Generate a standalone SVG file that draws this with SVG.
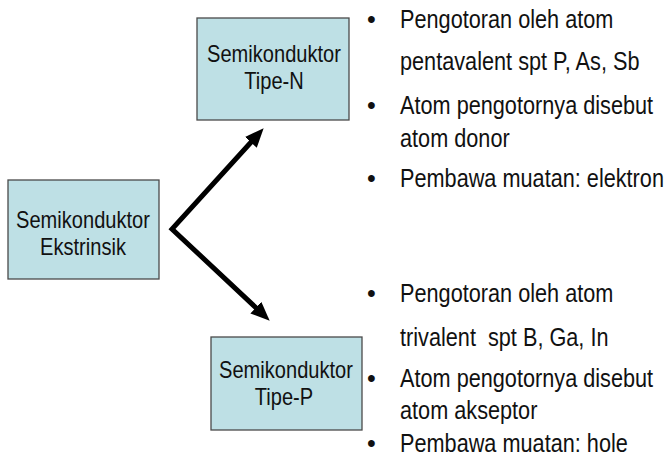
<svg xmlns="http://www.w3.org/2000/svg" width="669" height="467" viewBox="0 0 669 467">
<style>
.box{fill:#bee0e5;stroke:#4a4a4a;stroke-width:1.3}
.bt{font-family:"Liberation Sans",Arial,sans-serif;font-size:23px;fill:#111;text-anchor:middle}
.lt{font-family:"Liberation Sans",Arial,sans-serif;font-size:25px;fill:#111}
.conn{fill:none;stroke:#000;stroke-width:5;stroke-linejoin:miter;stroke-miterlimit:10}
</style>
<defs>
<marker id="ah" markerUnits="userSpaceOnUse" markerWidth="22" markerHeight="18" refX="9" refY="8" orient="auto-start-reverse">
<path d="M0,0 L19,8 L0,16 z" fill="#000"/>
</marker>
</defs>
<rect width="669" height="467" fill="#fff"/>
<g id="connectors">
<path class="conn" d="M256.9,135.7 L172,229 L262.4,313.8" marker-start="url(#ah)" marker-end="url(#ah)"/>
</g>
<g id="node-ekstrinsik">
<rect class="box" x="8" y="180" width="151" height="99"/>
<text class="bt" transform="translate(83,228) scale(0.873,1)">Semikonduktor</text>
<text class="bt" transform="translate(83,255) scale(0.873,1)">Ekstrinsik</text>
</g>
<g id="node-tipe-n">
<rect class="box" x="197" y="18" width="152" height="102"/>
<text class="bt" transform="translate(274,62) scale(0.873,1)">Semikonduktor</text>
<text class="bt" transform="translate(274,89) scale(0.873,1)">Tipe-N</text>
</g>
<g id="node-tipe-p">
<rect class="box" x="211" y="337" width="151" height="93"/>
<text class="bt" transform="translate(286,378) scale(0.873,1)">Semikonduktor</text>
<text class="bt" transform="translate(284,405) scale(0.873,1)">Tipe-P</text>
</g>
<g id="list-n">
<text class="lt" x="367" y="28">•</text>
<text class="lt" transform="translate(400,28) scale(0.868,1)">Pengotoran oleh atom</text>
<text class="lt" transform="translate(400,70) scale(0.868,1)">pentavalent spt P, As, Sb</text>
<text class="lt" x="367" y="114">•</text>
<text class="lt" transform="translate(400,114) scale(0.868,1)">Atom pengotornya disebut</text>
<text class="lt" transform="translate(400,147) scale(0.868,1)">atom donor</text>
<text class="lt" x="367" y="187">•</text>
<text class="lt" transform="translate(400,187) scale(0.868,1)">Pembawa muatan: elektron</text>
</g>
<g id="list-p">
<text class="lt" x="367" y="302">•</text>
<text class="lt" transform="translate(400,302) scale(0.868,1)">Pengotoran oleh atom</text>
<text class="lt" transform="translate(400,346) scale(0.868,1)" xml:space="preserve">trivalent  spt B, Ga, In</text>
<text class="lt" x="367" y="387">•</text>
<text class="lt" transform="translate(400,387) scale(0.868,1)">Atom pengotornya disebut</text>
<text class="lt" transform="translate(400,419) scale(0.868,1)">atom akseptor</text>
<text class="lt" x="367" y="452">•</text>
<text class="lt" transform="translate(400,452) scale(0.868,1)">Pembawa muatan: hole</text>
</g>
</svg>
